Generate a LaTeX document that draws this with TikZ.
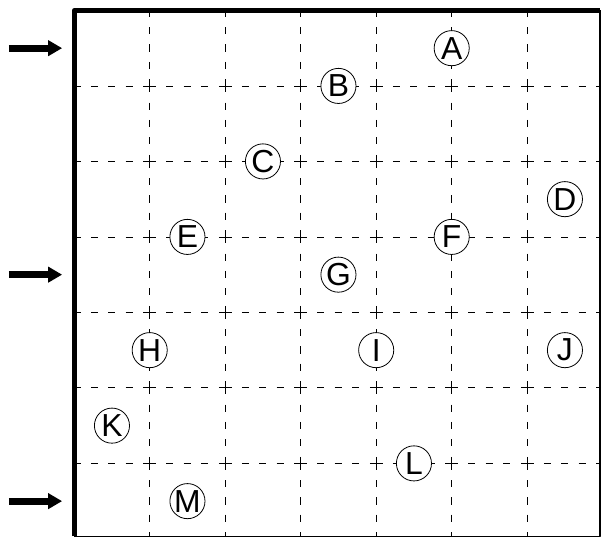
\documentclass[tikz,border=0pt]{standalone}
\usepackage{fontspec}
\setmainfont{Liberation Sans}
\usetikzlibrary{arrows.meta}

\begin{document}
\begin{tikzpicture}[
			x=2cm, y=-2cm,
			every node/.style={font=\fontsize{24}{28}\selectfont},
			line join=round,
			spot/.style={circle, draw, fill=white, line width=0.6pt, minimum size=0.93cm, inner sep=0pt},
			gridline/.style={line width=0.6pt, dash pattern=on 0.34cm off 0.27cm on 0.19cm off 0.27cm on 0.19cm off 0.27cm on 0.19cm off 0.28cm, dash phase=0.17cm},
			feed/.style={-{Triangle[length=0.37cm, width=0.4cm]}, line width=0.185cm}
			]
			\useasboundingbox (-0.983,-0.138) rectangle (6.991,6.979);
			
			% Grid
			\foreach \i in {1,...,6} {
				\draw[gridline] (\i,0) -- (\i,6.965);
				\draw[gridline] (0,\i) -- (6.965,\i);
			}
			
			% Frame
			\draw[line width=1pt] (0,6.965) -- (6.965,6.965) -- (6.965,0);
			\draw[line width=3.8pt] (0,6.965) -- (0,0) -- (6.965,0);
			
			% Entry arrows
			\foreach \r [count=\k] in {0.5,3.5,6.5} {
				\coordinate (feed\k s) at (-0.864,\r);
				\coordinate (feed\k e) at (-0.16,\r);
				\draw[feed] (feed\k s) -- (feed\k e);
			}
			
			% Points
			\node[spot] (A) at (5,0.5) {A};
			\node[spot] (B) at (3.5,1) {B};
			\node[spot] (C) at (2.5,2) {C};
			\node[spot] (D) at (6.5,2.5) {D};
			\node[spot] (E) at (1.5,3) {E};
			\node[spot] (F) at (5,3) {F};
			\node[spot] (G) at (3.5,3.5) {G};
			\node[spot] (H) at (1,4.5) {H};
			\node[spot] (I) at (4,4.5) {I};
			\node[spot] (J) at (6.5,4.5) {J};
			\node[spot] (K) at (0.5,5.5) {K};
			\node[spot] (L) at (4.5,6) {L};
			\node[spot] (M) at (1.5,6.5) {M};
		\end{tikzpicture}
\end{document}
